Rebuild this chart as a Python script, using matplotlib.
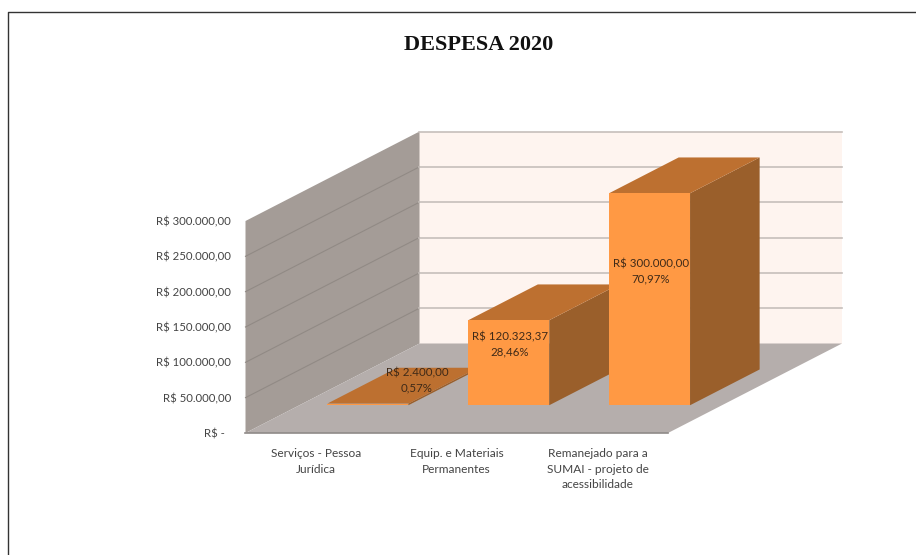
import matplotlib
matplotlib.use('Agg')
from matplotlib import pyplot as plt
from matplotlib.patches import Polygon
from matplotlib.lines import Line2D

# Chart data
categories = ['Serviços - Pessoa\nJurídica',
              'Equip. e Materiais\nPermanentes',
              'Remanejado para a\nSUMAI - projeto de\nacessibilidade']
values = [2400.00, 120323.37, 300000.00]
value_labels = ['R$ 2.400,00', 'R$ 120.323,37', 'R$ 300.000,00']
percent_labels = ['0,57%', '28,46%', '70,97%']
y_ticks = [0, 50000, 100000, 150000, 200000, 250000, 300000]
y_tick_labels = ['R$ -  ', 'R$ 50.000,00', 'R$ 100.000,00', 'R$ 150.000,00',
                 'R$ 200.000,00', 'R$ 250.000,00', 'R$ 300.000,00']
title = 'DESPESA 2020'

W, H = 916, 555
plt.rcParams['font.family'] = ['Lato', 'DejaVu Sans']

fig = plt.figure(figsize=(W / 100, H / 100), dpi=100, facecolor='white')
# The axes are the front plane of the 3D box, everything else is sheared from it
ax = fig.add_axes([245.5 / W, (H - 433) / H, 422.5 / W, 212 / H])
ax.set_xlim(0, 3)
ax.set_ylim(0, 300000)
for s in ax.spines.values():
    s.set_visible(False)
ax.patch.set_visible(False)

# Oblique depth: full depth moves 174 px right and 89.5 px up
DX = 174 / (422.5 / 3)
DY = 89.5 / 212 * 300000


def proj(x, v, d):
    return (x + d * DX, v + d * DY)


def face(points, color, z, edge='none'):
    ax.add_patch(Polygon([proj(*p) for p in points], closed=True, facecolor=color,
                         edgecolor=edge, linewidth=0.6, clip_on=False, zorder=z))


top = y_ticks[-1]

# Walls and floor
face([(0, 0, 1), (3, 0, 1), (3, top, 1), (0, top, 1)], '#fef4ef', 1)
face([(0, 0, 0), (0, top, 0), (0, top, 1), (0, 0, 1)], '#a49c97', 1)
face([(0, 0, 0), (3, 0, 0), (3, 0, 1), (0, 0, 1)], '#b5aeac', 2)

for t in y_ticks[1:]:
    if t < top:
        xs, ys = zip(proj(0, t, 0), proj(0, t, 1))
        ax.plot(xs, ys, color='#918a85', lw=0.8, clip_on=False, zorder=2)
    xs, ys = zip(proj(0, t, 1), proj(3, t, 1))
    ax.plot(xs, ys, color='#c6bfbb', lw=1.2, clip_on=False, zorder=2)
ax.plot([0, 3], [0, 0], color='#8f8a88', lw=1.2, clip_on=False, zorder=3)

# Bars
bar_w = 0.575
d0, d1 = 0.31, 0.71
for i, v in enumerate(values):
    x0 = i + 0.486 - bar_w / 2
    x1 = i + 0.486 + bar_w / 2
    z = 4 + i
    face([(x1, 0, d0), (x1, 0, d1), (x1, v, d1), (x1, v, d0)], '#9a5f2b', z)
    face([(x0, v, d0), (x1, v, d0), (x1, v, d1), (x0, v, d1)], '#bd7030', z)
    face([(x0, 0, d0), (x1, 0, d0), (x1, v, d0), (x0, v, d0)], '#ff9944', z)

# Data labels, figure pixels from the top left
label_pos = [(417, 380), (510, 344), (651, 271)]
for (px, py), vl, pl in zip(label_pos, value_labels, percent_labels):
    fig.text(px / W, 1 - py / H, vl + '\n' + pl, ha='center', va='center',
             fontsize=8.3, color='#3f2a18', linespacing=1.45, zorder=10)

# Axis labels
ax.set_xticks([0.5, 1.5, 2.5])
ax.set_xticklabels(categories, fontsize=8.6, color='#444444', linespacing=1.55)
ax.set_yticks(y_ticks)
ax.set_yticklabels(y_tick_labels, fontsize=8.2, color='#444444')
ax.tick_params(axis='x', length=0, pad=10.5)
ax.tick_params(axis='y', length=0, pad=10.5)

fig.text(479 / W, 1 - 45.5 / H, title, ha='center', va='center', fontsize=16,
         fontweight='bold', family='Liberation Serif', color='#111111')

# Outer frame of the slide (top and left only are visible)
fig.add_artist(Line2D([8 / W, 8 / W, 1], [0, 1 - 12 / H, 1 - 12 / H],
                      color='#333333', lw=1.0))

fig.savefig('out.png', dpi=100)
